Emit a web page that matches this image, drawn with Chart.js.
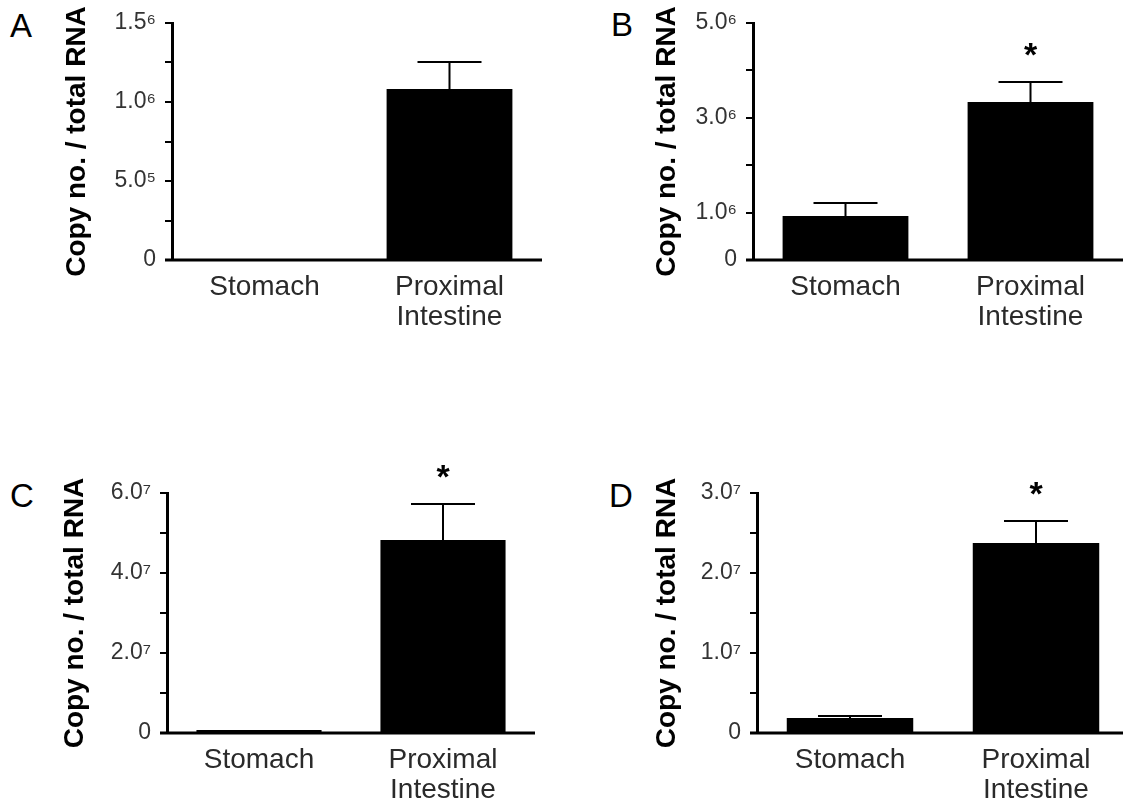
<!DOCTYPE html>
<html>
<head>
<meta charset="utf-8">
<script src="https://cdn.jsdelivr.net/npm/chart.js@4.4.1/dist/chart.umd.min.js"></script>
<style>
  body { margin: 0; background: #fff; }
  .wrap { position: relative; width: 1123px; height: 804px; overflow: hidden; background: #fff; }
  .wrap canvas { position: absolute; }
  .letter { position: absolute; font: 33px "Liberation Sans", Arial, sans-serif; line-height: 33px; color: #000; }
</style>
</head>
<body>
<div class="wrap">
  <div class="letter" style="left:10px;top:9px">A</div>
  <div class="letter" style="left:611px;top:8px">B</div>
  <div class="letter" style="left:10px;top:479px">C</div>
  <div class="letter" style="left:609px;top:479px">D</div>
  <canvas id="chartA" width="561" height="400" style="left:0;top:0"></canvas>
  <canvas id="chartB" width="562" height="400" style="left:561px;top:0"></canvas>
  <canvas id="chartC" width="561" height="404" style="left:0;top:400px"></canvas>
  <canvas id="chartD" width="572" height="404" style="left:561px;top:400px"></canvas>
</div>
<script>
const categories = ['Stomach', ['Proximal', 'Intestine']];
const yTitle = 'Copy no. / total RNA';

// A
const meanA = [0, 1082000];
const errA = [0, 171000];
const starA = ['', ''];
const tickValA = [0, 250000, 500000, 750000, 1000000, 1250000, 1500000];
const tickLabA = ['0', '', '5.0⁵', '', '1.0⁶', '', '1.5⁶'];

// B
const meanB = [928000, 3333000];
const errB = [275000, 420000];
const starB = ['', '*'];
const tickValB = [0, 1000000, 2000000, 3000000, 4000000, 5000000];
const tickLabB = ['0', '1.0⁶', '', '3.0⁶', '', '5.0⁶'];

// C
const meanC = [750000, 48250000];
const errC = [0, 9000000];
const starC = ['', '*'];
const tickValC = [0, 10000000, 20000000, 30000000, 40000000, 50000000, 60000000];
const tickLabC = ['0', '', '2.0⁷', '', '4.0⁷', '', '6.0⁷'];

// D
const meanD = [1875000, 23750000];
const errD = [250000, 2750000];
const starD = ['', '*'];
const tickValD = [0, 5000000, 10000000, 15000000, 20000000, 25000000, 30000000];
const tickLabD = ['0', '', '1.0⁷', '', '2.0⁷', '', '3.0⁷'];

const fam = '"Liberation Sans", Arial, sans-serif';

// error bars, asterisks and the x baseline
const extras = {
  id: 'extras',
  afterDatasetsDraw(chart, args, opts) {
    const ctx = chart.ctx;
    const y = chart.scales.y;
    const area = chart.chartArea;
    const bars = chart.getDatasetMeta(0).data;
    const mean = chart.data.datasets[0].data;
    ctx.save();
    ctx.strokeStyle = '#000';
    ctx.fillStyle = '#000';
    const y0 = y.getPixelForValue(0);
    ctx.lineWidth = 3;
    ctx.beginPath();
    ctx.moveTo(area.left - 7, y0);
    ctx.lineTo(area.right, y0);
    ctx.stroke();
    ctx.lineWidth = 2;
    bars.forEach((bar, i) => {
      const e = opts.err[i];
      if (!e) return;
      const yMean = y.getPixelForValue(mean[i]);
      const yTop = y.getPixelForValue(mean[i] + e);
      ctx.beginPath();
      ctx.moveTo(bar.x, yMean);
      ctx.lineTo(bar.x, yTop);
      ctx.moveTo(bar.x - 32, yTop);
      ctx.lineTo(bar.x + 32, yTop);
      ctx.stroke();
      if (opts.star[i]) {
        ctx.font = 'bold 34px ' + fam;
        ctx.textAlign = 'center';
        ctx.textBaseline = 'alphabetic';
        ctx.fillText(opts.star[i], bar.x, yTop - 16);
      }
    });
    ctx.restore();
  }
};

function makePanel(id, mean, err, star, tickVals, tickLabs, box, titleX) {
  const cv = document.getElementById(id);
  const W = cv.width, H = cv.height;
  return new Chart(cv, {
    type: 'bar',
    data: {
      labels: categories,
      datasets: [{
        data: mean,
        backgroundColor: '#000',
        borderWidth: 0,
        barPercentage: 0.68,
        categoryPercentage: 1
      }]
    },
    options: {
      responsive: false,
      animation: false,
      layout: { padding: { left: 0, top: box.top, right: W - box.right, bottom: 0 } },
      plugins: {
        legend: { display: false },
        tooltip: { enabled: false },
        extras: { err: err, star: star }
      },
      scales: {
        x: {
          afterFit: s => { s.height = H - box.bottom; },
          grid: { display: false, drawTicks: false },
          border: { display: false },
          ticks: {
            autoSkip: false, maxRotation: 0, padding: 13, color: '#2a2a2a',
            font: { family: fam, size: 28, lineHeight: 1.05 }
          }
        },
        y: {
          min: 0,
          max: tickVals[tickVals.length - 1],
          afterBuildTicks: s => { s.ticks = tickVals.map(v => ({ value: v })); },
          afterFit: s => { s.width = box.left; },
          border: { display: true, color: '#000', width: 3 },
          grid: { drawOnChartArea: false, drawTicks: true, tickLength: 7, color: '#000', lineWidth: 2 },
          ticks: {
            autoSkip: false, padding: 9, color: '#333',
            font: { family: fam, size: 23 },
            callback: (v, i) => tickLabs[i]
          },
          title: {
            display: true, text: yTitle, color: '#000',
            font: { family: fam, size: 28, weight: 'bold', lineHeight: 1.2 },
            padding: { top: titleX - 16.8, bottom: 0 }
          }
        }
      }
    },
    plugins: [extras]
  });
}

makePanel('chartA', meanA, errA, starA, tickValA, tickLabA, { left: 172, top: 23, right: 542, bottom: 260 }, 77);
makePanel('chartB', meanB, errB, starB, tickValB, tickLabB, { left: 192, top: 23, right: 562, bottom: 260 }, 106);
makePanel('chartC', meanC, errC, starC, tickValC, tickLabC, { left: 167, top: 93, right: 535, bottom: 333 }, 75);
makePanel('chartD', meanD, errD, starD, tickValD, tickLabD, { left: 196, top: 93, right: 568, bottom: 333 }, 106);
</script>
</body>
</html>
